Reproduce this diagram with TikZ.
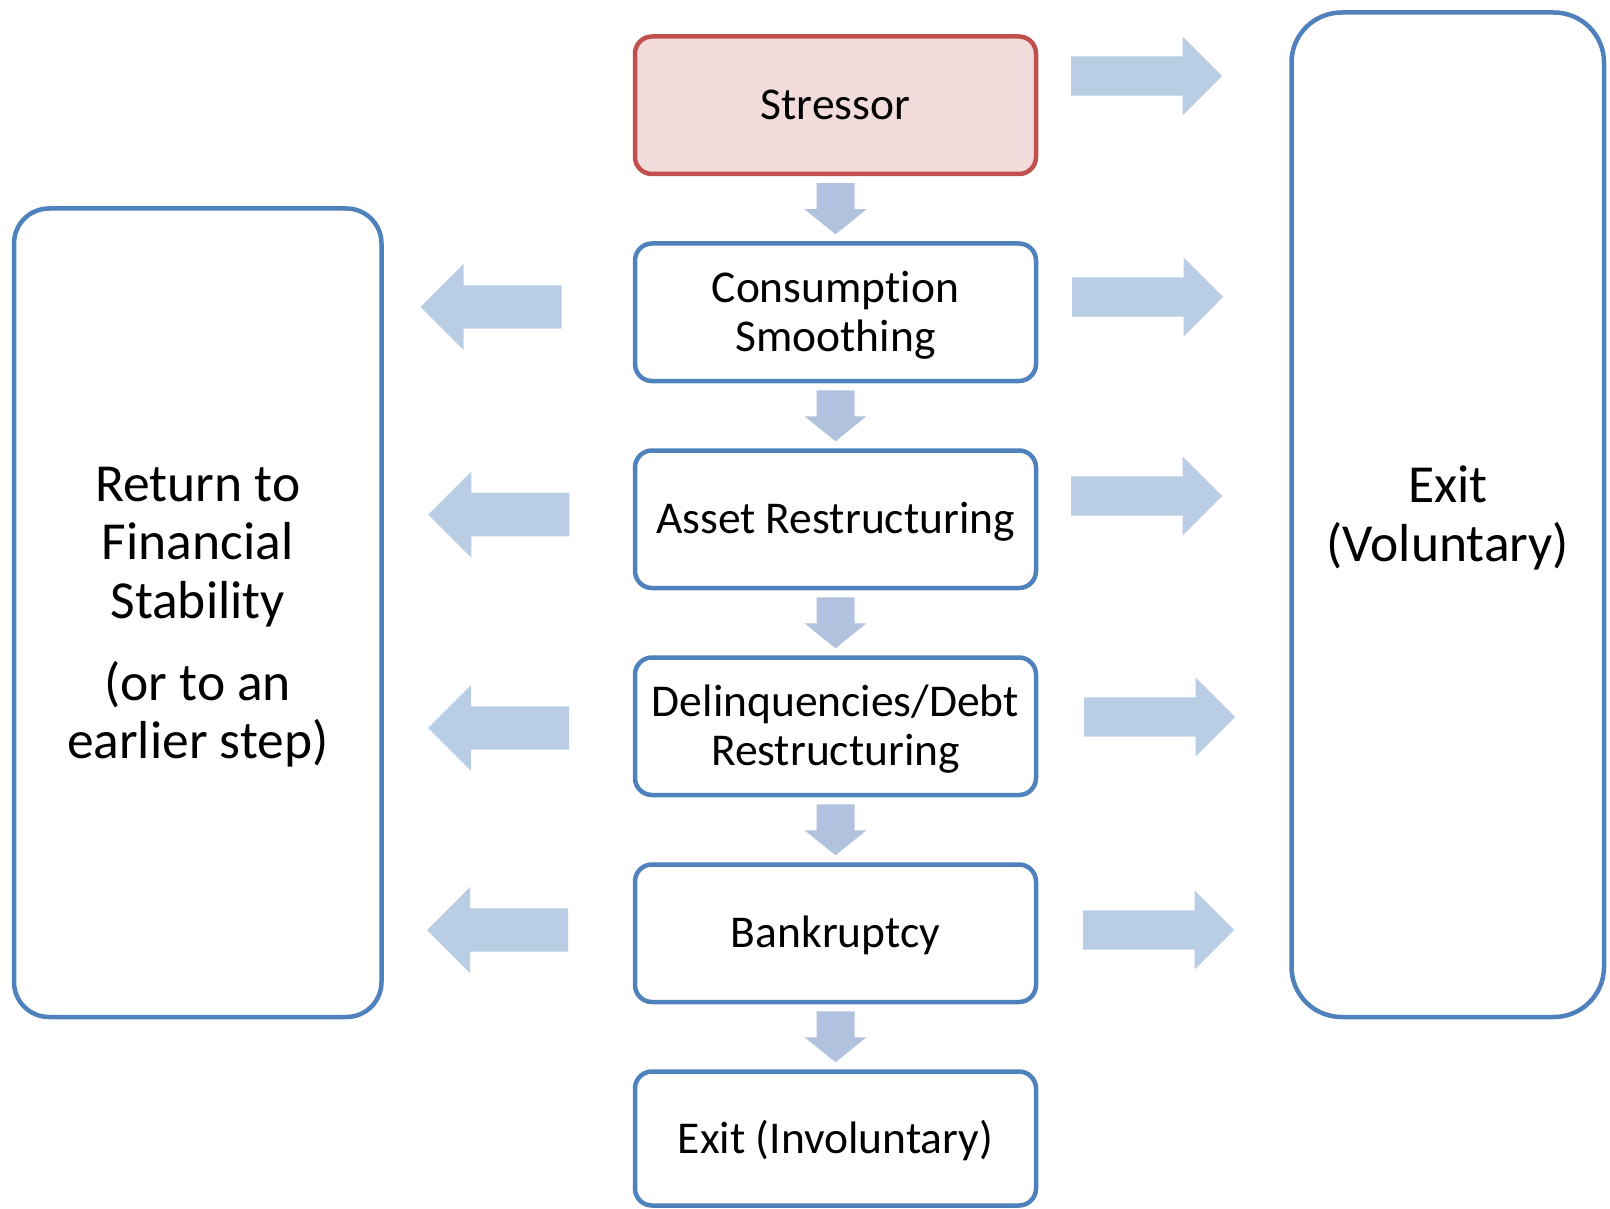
\documentclass[tikz,border=0pt]{standalone}
\usepackage{fontspec}
\setmainfont{Carlito}[Ligatures=NoCommon]
\usetikzlibrary{calc}
\definecolor{boxblue}{HTML}{4F81BD}
\definecolor{stressred}{HTML}{C0504D}
\definecolor{stressfill}{HTML}{F2DCDB}
\definecolor{sidearrow}{HTML}{B9CDE5}
\definecolor{downarrowc}{HTML}{B0C2DE}
\newcommand\lnstrut{\rule[-0.18em]{0pt}{1em}}
\begin{document}
\begin{tikzpicture}[x=1pt,y=-1pt,
  stepbox/.style={draw=boxblue, line width=4.5pt, rounded corners=17pt, fill=white,
    minimum width=401pt, minimum height=137.5pt, inner sep=0pt, align=center,
    font=\fontsize{45.5}{49}\selectfont},
  bigbox/.style={draw=boxblue, line width=4.5pt, fill=white, inner sep=0pt, align=center,
    font=\fontsize{53.5}{58.5}\selectfont},
  downarrow/.pic={\fill[downarrowc] (-19,-25.5) -- (19,-25.5) -- (19,0.5) -- (31,0.5) -- (0,25.5) -- (-31,0.5) -- (-19,0.5) -- cycle;},
  rightarrow/.pic={\fill[sidearrow] (0,-19.7) -- (111.5,-19.7) -- (111.5,-39.5) -- (151,0) -- (111.5,39.5) -- (111.5,19.7) -- (0,19.7) -- cycle;},
  leftarrow/.pic={\fill[sidearrow] (0,0) -- (43,-43) -- (43,-21.7) -- (141,-21.7) -- (141,21.7) -- (43,21.7) -- (43,43) -- cycle;}
]
\useasboundingbox (0,0) rectangle (1610,1209);

% centre column
\node[stepbox, draw=stressred, fill=stressfill] (s) at (835.5,105.25) {\lnstrut Stressor};
\node[stepbox] (c) at (835.5,312.25) {\lnstrut Consumption\\\lnstrut Smoothing};
\node[stepbox] (a) at (835.5,519.25) {\lnstrut Asset Restructuring};
\node[stepbox] (d) at (835.5,726.25) {\lnstrut Delinquencies/Debt\\\lnstrut Restructuring};
\node[stepbox] (b) at (835.5,933.25) {\lnstrut Bankruptcy};
\node[stepbox, minimum height=134pt] (e) at (835.5,1138.5) {\lnstrut Exit (Involuntary)};

% side boxes
\node[bigbox, rounded corners=35pt, minimum width=367.5pt, minimum height=808.5pt] (r) at (197.75,612.75)
  {\lnstrut Return to\\\lnstrut Financial\\\lnstrut Stability\\[23.5pt]\lnstrut (or to an\\\lnstrut earlier step)};
\node[bigbox, rounded corners=50pt, minimum width=312.5pt, minimum height=1004.5pt] (v) at (1447.75,514.75)
  {\lnstrut Exit\\\lnstrut (Voluntary)};

% down arrows between steps
\pic at ($(s.south)!0.5!(c.north)$) {downarrow};
\pic at ($(c.south)!0.5!(a.north)$) {downarrow};
\pic at ($(a.south)!0.5!(d.north)$) {downarrow};
\pic at ($(d.south)!0.5!(b.north)$) {downarrow};
\pic at ($(b.south)!0.5!(e.north)$) {downarrow};

% right arrows
\pic at (1071,76) {rightarrow};
\pic at (1072,297) {rightarrow};
\pic at (1071,496) {rightarrow};
\pic at (1084,717) {rightarrow};
\pic at (1083,930) {rightarrow};

% left arrows
\pic at (420.7,307) {leftarrow};
\pic at (428.3,514.6) {leftarrow};
\pic at (428,728) {leftarrow};
\pic at (427,930) {leftarrow};
\end{tikzpicture}
\end{document}
